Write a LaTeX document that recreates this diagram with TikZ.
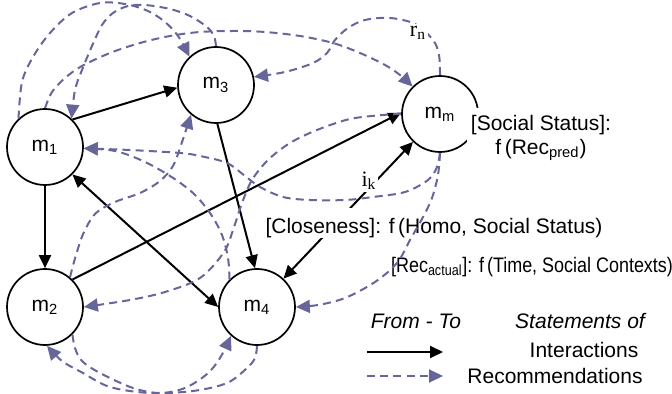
\documentclass[tikz,border=0pt]{standalone}
\usepackage{fontspec}
\setmainfont{Liberation Sans}
\newfontfamily\tms{Liberation Serif}
\usetikzlibrary{arrows.meta}
\definecolor{recblue}{RGB}{102,102,155}
\tikzset{
  mnode/.style={circle, draw, line width=0.85pt, minimum size=38pt, inner sep=0pt, fill=white},
  inter/.style={line width=1pt, -{Triangle[length=6.5pt,width=6pt]}},
  interboth/.style={line width=1pt, {Triangle[length=6.5pt,width=6pt]}-{Triangle[length=6.5pt,width=6pt]}},
  recom/.style={draw=recblue, line width=1pt, dash pattern=on 4pt off 2.6pt,
    -{Triangle[length=7pt,width=6.5pt,color=recblue]}},
  sm/.style={smooth, tension=0.55},
  txt/.style={anchor=base, inner sep=0pt},
  serifl/.style={fill=white, inner sep=1pt, font=\tms\fontsize{11}{13}\selectfont},
}
\begin{document}
\begin{tikzpicture}[x=0.5pt, y=-0.5pt, font=\fontsize{10.5}{12}\selectfont]
\useasboundingbox (0,0) rectangle (672,394);
% nodes
\node[mnode] (m1) at (45,147) {m\textsubscript{1}};
\node[mnode] (m3) at (216,85) {m\textsubscript{3}};
\node[mnode] (mm) at (440,114) {m\textsubscript{m}};
\node[mnode] (m2) at (45,307) {m\textsubscript{2}};
\node[mnode] (m4) at (257,307) {m\textsubscript{4}};
% interactions
\draw[inter] (m1.45) -- (m3.184);
\draw[inter] (m1.south) -- (m2.north);
\draw[inter] (m3.-88) -- (m4.93);
\draw[inter] (m2.45) -- (mm.178);
\draw[interboth] (m1.-45) -- (m4.180);
\draw[interboth] (m4.47) -- (mm.226);
% labels with white background
\node[serifl] (ik) at (369,181) {i\textsubscript{k}};
\node[anchor=base, fill=white, inner xsep=1pt, inner ysep=0pt, text height=13pt, text depth=2pt] (clos) at (434,234) {[Closeness]: f\,(Homo, Social Status)};
\node[txt] (recact) at (532,272) {\scalebox{0.855}[1]{[Rec\textsubscript{actual}]: f\,(Time, Social Contexts)}};
\node[anchor=north, align=center, fill=white, inner xsep=2pt, inner ysep=3.5pt] (soc) at (541,108) {[Social Status]:\\ f\,(Rec\textsubscript{pred})};
% recommendations
\draw[recom] plot[sm] coordinates {(m1.133) (22,82) (33,57) (50,33) (72,13) (100,3) (125,4) (148,11) (165,22) (178,36) (m3.133)};
\draw[recom] plot[sm] coordinates {(m3.90) (214,36) (207,27) (190,16) (170,9) (145,5) (128,6) (113,13) (102,25) (92,46) (82,70) (75,90) (m1.47)};
\draw[recom] plot[sm] coordinates {(m1.90) (52,92) (65,78) (82,66) (110,53) (140,43) (170,36) (200,32) (235,31) (265,32) (300,36) (333,43) (360,53) (385,65) (400,75) (mm.135)};
\draw[recom] plot[sm] coordinates {(mm.90) (439,55) (433,40) (415,24) (390,18) (365,20) (348,28) (335,40) (327,53) (313,63) (285,72) (m3.12)};
\draw[recom] plot[sm] coordinates {(mm.270) (437,167) (428,180) (405,192) (373,197) (345,200) (310,200) (283,197) (260,187) (245,176) (227,163) (200,156) (180,153) (130,150) (m1.358)};
\draw[recom] plot[sm] coordinates {(m4.135) (228,258) (222,235) (210,213) (193,193) (170,176) (143,161) (115,151) (m1.358)};
\draw[recom] plot[sm] coordinates {(mm.180) (383,115) (350,119) (317,130) (290,143) (268,160) (252,180) (242,203) (234,227) (224,252) (200,278) (165,292) (130,300) (m2.0)};
\draw[recom] plot[sm] coordinates {(m2.50) (76,255) (84,232) (96,213) (115,202) (140,193) (160,181) (173,166) (181,145) (m3.230)};
\draw[recom] plot[sm] coordinates {(m2.-45) (75,348) (82,361) (100,373) (133,388) (160,393) (185,388) (207,374) (220,358) (m4.228)};
\draw[recom] plot[sm] coordinates {(m4.270) (255,358) (247,368) (227,383) (193,391) (150,393) (110,387) (83,373) (62,361) (m2.-87)};
\draw[recom] plot[sm] coordinates {(mm.270) (438,175) (432,198) (423,217) (410,240) (397,263) (375,282) (345,298) (318,305) (m4.0)};
\node[serifl] (rn) at (418,33) {r\textsubscript{n}};
% legend
\node[txt, font=\fontsize{10.5}{12}\selectfont\itshape] (fromto) at (416,328) {From - To};
\node[txt, font=\fontsize{10.5}{12}\selectfont\itshape] (stmt) at (580,328) {Statements of};
\node[txt] (linter) at (584,357) {Interactions};
\node[txt] (lrec) at (555,383) {Recommendations};
\coordinate (l1s) at (367,352);
\coordinate (l1e) at (443,352);
\coordinate (l2s) at (367,376);
\coordinate (l2e) at (443,376);
\draw[inter] (l1s) -- (l1e);
\draw[recom] (l2s) -- (l2e);
\end{tikzpicture}
\end{document}
